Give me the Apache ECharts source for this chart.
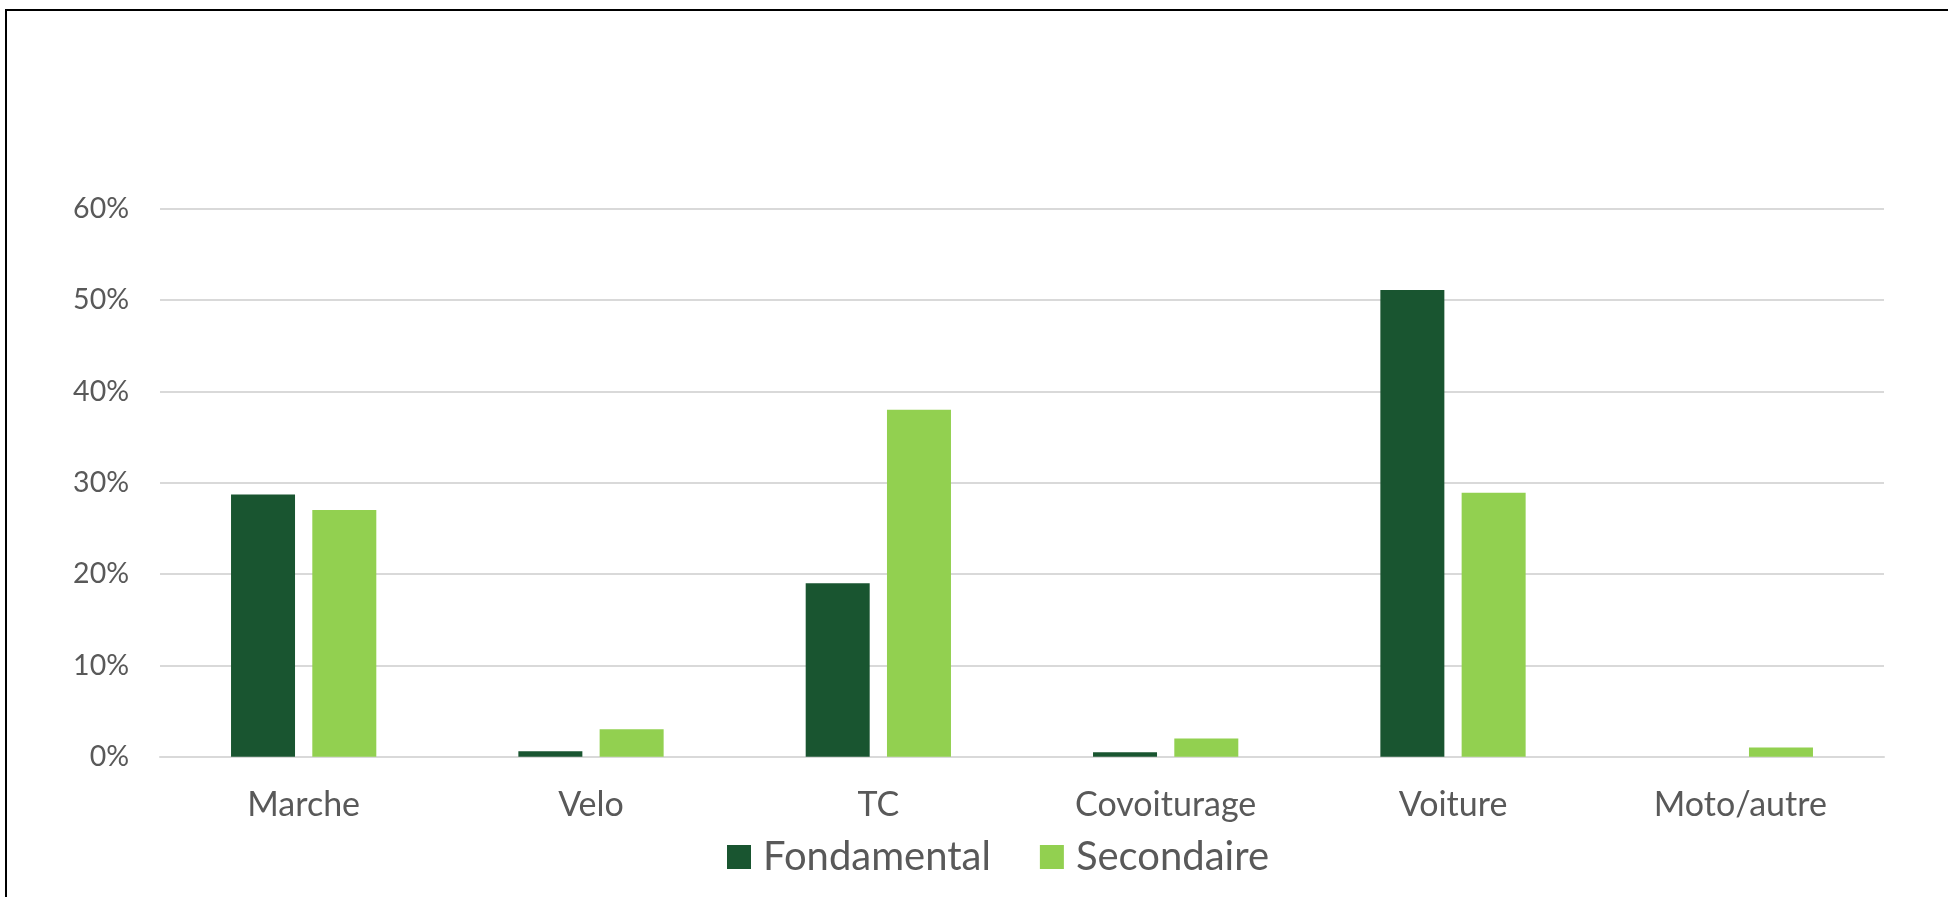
<!DOCTYPE html>
<html>
<head>
<meta charset="utf-8">
<script src="https://cdn.jsdelivr.net/npm/echarts@6/dist/echarts.min.js"></script>
<style>
  html, body { margin: 0; padding: 0; background: #fff; }
  #chart { width: 1948px; height: 897px; }
</style>
</head>
<body>
<div id="chart"></div>
<script>
const categories = ['Marche', 'Velo', 'TC', 'Covoiturage', 'Voiture', 'Moto/autre'];
const fondamental = [28.7, 0.6, 19.0, 0.5, 51.1, 0];
const secondaire = [27.0, 3.0, 38.0, 2.0, 28.9, 1.0];
const yTicks = [0, 10, 20, 30, 40, 50, 60];

const textColor = '#595959';
const fontFamily = 'Lato, "Open Sans", sans-serif';

const chart = echarts.init(document.getElementById('chart'));

const option = {
  animation: false,
  backgroundColor: '#fff',
  grid: { left: 160, right: 64, top: 208.7, bottom: 140.3, containLabel: false },
  legend: {
    data: ['Fondamental', 'Secondaire'],
    left: 722,
    top: 832,
    padding: 5,
    icon: 'rect',
    itemWidth: 24,
    itemHeight: 24,
    itemGap: 49,
    textStyle: { color: textColor, fontFamily, fontSize: 40, padding: [0, 0, 0, 7] }
  },
  xAxis: {
    type: 'category',
    data: categories,
    axisLine: { show: true, lineStyle: { color: '#d9d9d9', width: 2 } },
    axisTick: { show: false },
    axisLabel: {
      color: textColor, fontFamily, fontSize: 34,
      margin: 48, verticalAlign: 'middle'
    }
  },
  yAxis: {
    type: 'value',
    min: yTicks[0],
    max: yTicks[yTicks.length - 1],
    interval: 10,
    axisLine: { show: false },
    axisTick: { show: false },
    splitLine: { lineStyle: { color: '#d9d9d9', width: 2 } },
    axisLabel: {
      color: textColor, fontFamily, fontSize: 28.5, margin: 31,
      formatter: v => v + '%'
    }
  },
  series: [
    {
      name: 'Fondamental',
      type: 'bar',
      data: fondamental,
      barWidth: 64,
      barGap: '27%',
      itemStyle: { color: '#195530' }
    },
    {
      name: 'Secondaire',
      type: 'bar',
      data: secondaire,
      barWidth: 64,
      barGap: '27%',
      itemStyle: { color: '#92d050' }
    }
  ],
  graphic: [{
    type: 'rect',
    silent: true,
    shape: { x: 6, y: 10, width: 1960, height: 920 },
    style: { fill: 'none', stroke: '#000', lineWidth: 2 }
  }]
};

chart.setOption(option);
</script>
</body>
</html>
